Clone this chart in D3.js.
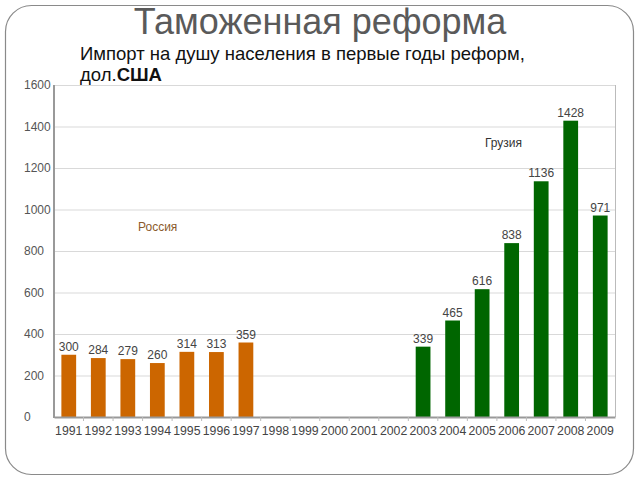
<!DOCTYPE html>
<html><head><meta charset="utf-8">
<script src="https://cdn.jsdelivr.net/npm/d3@7"></script>
<style>body{margin:0;background:#fff}svg{display:block}</style>
</head><body>
<svg id="c" width="640" height="480"></svg>
<script>
const years = ["1991","1992","1993","1994","1995","1996","1997","1998","1999","2000","2001","2002","2003","2004","2005","2006","2007","2008","2009"];
const russia = [300,284,279,260,314,313,359,null,null,null,null,null,null,null,null,null,null,null,null];
const georgia = [null,null,null,null,null,null,null,null,null,null,null,null,339,465,616,838,1136,1428,971];
const yTicks = [0,200,400,600,800,1000,1200,1400,1600];

const svg = d3.select("#c");
const font = "'Liberation Sans', Arial, sans-serif";
// frame
svg.append("rect").attr("x",5.5).attr("y",5.5).attr("width",628).attr("height",469)
  .attr("rx",26).attr("fill","#fff").attr("stroke","#8a8a8a").attr("stroke-width",1.2);
svg.append("text").attr("x",320).attr("y",34).attr("text-anchor","middle")
  .attr("font-family",font).attr("font-size",36).attr("fill","#5a5a5a").text("Таможенная реформа");
const sub1 = svg.append("text").attr("font-family",font).attr("font-size",18.5).attr("fill","#111")
  .attr("x",80).attr("y",60).text("Импорт на душу населения в первые годы реформ,");
const sub2 = svg.append("text").attr("font-family",font).attr("font-size",18.5).attr("fill","#111")
  .attr("x",80).attr("y",81);
sub2.append("tspan").text("дол.");
sub2.append("tspan").attr("font-weight","bold").text("США");

const L=54,R=615,T=85,B=417;
const x = d3.scaleBand().domain(years).range([L,R]).paddingInner(0.5).paddingOuter(0.25);
const y = d3.scaleLinear().domain([0,1600]).range([B,T]);

// grid
svg.append("g").selectAll("line").data(yTicks.filter(d=>d>0)).join("line")
  .attr("x1",L).attr("x2",R).attr("y1",d=>y(d)+0.5).attr("y2",d=>y(d)+0.5)
  .attr("stroke","#d9d9d9").attr("stroke-width",1);
svg.append("line").attr("x1",R+0.5).attr("x2",R+0.5).attr("y1",T).attr("y2",B).attr("stroke","#bbb");
// y labels
svg.append("g").selectAll("text").data(yTicks).join("text")
  .attr("x",24).attr("y",d=>y(d)+4).attr("font-family",font).attr("font-size",12)
  .attr("fill","#555").text(d=>d);

function bars(data,color){
  const d2 = years.map((yr,i)=>({yr,v:data[i]})).filter(d=>d.v!=null);
  svg.append("g").selectAll("rect").data(d2).join("rect")
    .attr("x",d=>x(d.yr)).attr("width",x.bandwidth()).attr("y",d=>y(d.v)).attr("height",d=>B-y(d.v))
    .attr("fill",color);
  svg.append("g").selectAll("text").data(d2).join("text")
    .attr("x",d=>x(d.yr)+x.bandwidth()/2).attr("y",d=>y(d.v)-4).attr("text-anchor","middle")
    .attr("font-family",font).attr("font-size",12).attr("fill","#444").text(d=>d.v);
}
bars(russia,"#cc6600");
bars(georgia,"#006600");

// axes
const xa = svg.append("g").attr("transform",`translate(0,${B})`)
  .call(d3.axisBottom(x).tickSize(0).tickPadding(9));
xa.select(".domain").attr("stroke","#999").attr("stroke-width",2);
xa.selectAll("text").attr("font-family",font).attr("font-size",12.3).attr("fill","#444");
// small separators between categories
svg.append("g").selectAll("line").data(years.slice(1)).join("line")
  .attr("x1",d=>x(d)-x.step()*x.paddingInner()/2).attr("x2",d=>x(d)-x.step()*x.paddingInner()/2)
  .attr("y1",B).attr("y2",B+4).attr("stroke","#bbb");
svg.append("line").attr("x1",L).attr("x2",L).attr("y1",T).attr("y2",B+1).attr("stroke","#999").attr("stroke-width",2);

svg.append("text").attr("x",138).attr("y",231).attr("font-family",font).attr("font-size",12)
  .attr("fill","#8b5a2b").text("Россия");
svg.append("text").attr("x",485).attr("y",147).attr("font-family",font).attr("font-size",12)
  .attr("fill","#333").text("Грузия");
</script>
</body></html>
